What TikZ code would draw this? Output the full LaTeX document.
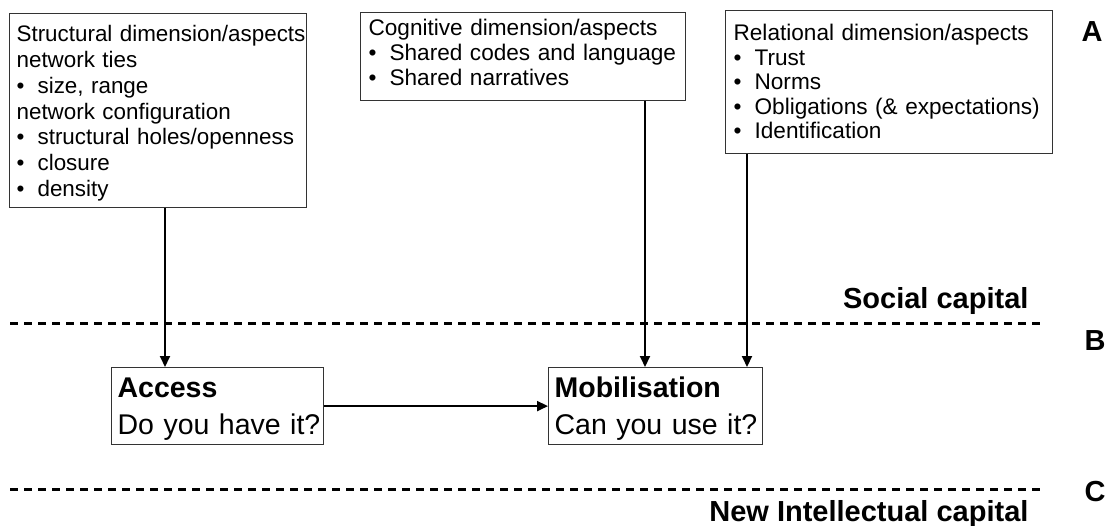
\documentclass[tikz,border=0pt]{standalone}
\usepackage{fontspec}
\setmainfont{Liberation Sans}
\usetikzlibrary{arrows.meta}
\newcommand{\bul}{\makebox[21pt][l]{\textbullet}}
% invisible struts that fix the space above the first line and below the last one
\newcommand{\toppad}[1]{\rule{0pt}{#1}}
\newcommand{\botpad}[1]{\rule[-#1]{0pt}{#1}}
\begin{document}
\begin{tikzpicture}[x=1pt,y=-1pt,
  dimbox/.style={draw=black!80, line width=1.2pt, anchor=north west, align=left,
    inner xsep=8pt, inner ysep=0pt},
  capbox/.style={draw=black!80, line width=1.2pt, anchor=north west, align=left,
    inner xsep=6pt, inner ysep=0pt, font=\fontsize{28.5}{37}\selectfont},
  arr/.style={line width=2pt, -{Triangle[length=11pt,width=10pt]}},
  sep/.style={line width=3pt, dash pattern=on 8pt off 6pt},
  lbl/.style={font=\fontsize{29}{32}\selectfont\bfseries}]
\useasboundingbox (0,0) rectangle (1118,525);

% dimension boxes
\node[dimbox, inner xsep=7pt, text width=283pt, minimum width=297pt,
      font=\fontsize{22.4}{25.8}\selectfont] (s1) at (9,13)
  {\toppad{28pt}\mbox{Structural dimension/aspects}\\network ties\\\bul size, range\\network configuration\\
   \bul structural holes/openness\\\bul closure\\\bul density\botpad{11pt}};
\node[dimbox, text width=309pt, minimum width=325pt,
      font=\fontsize{22.6}{25}\selectfont] (s2) at (360,11.5)
  {\toppad{23pt}Cognitive dimension/aspects\\\bul Shared codes and language\\\bul Shared narratives\botpad{15pt}};
\node[dimbox, text width=311pt, minimum width=327pt,
      font=\fontsize{22.6}{24.5}\selectfont] (s3) at (725,10)
  {\toppad{30pt}Relational dimension/aspects\\\bul Trust\\\bul Norms\\\bul Obligations (\& expectations)\\\bul Identification\botpad{15pt}};

% access and mobilisation
\node[capbox, text width=200pt, minimum width=212pt] (acc) at (111,367)
  {\toppad{30pt}\mbox{\textbf{Access}}\\\mbox{Do you have it?}\botpad{10pt}};
\node[capbox, text width=202pt, minimum width=214pt] (mob) at (548,367)
  {\toppad{30pt}\mbox{\textbf{Mobilisation}}\\\mbox{Can you use it?}\botpad{10pt}};

% separators
\coordinate (d1a) at (10,323); \coordinate (d1b) at (1040,323);
\coordinate (d2a) at (10,489); \coordinate (d2b) at (1040,489);
\draw[sep] (d1a) -- (d1b);
\draw[sep] (d2a) -- (d2b);

% level labels
\node[lbl, anchor=base east] (soc) at (1032,308) {Social capital};
\node[lbl, anchor=base east] (nic) at (1032,521) {New Intellectual capital};
\node[lbl] (la) at (1092,32) {A};
\node[lbl] (lb) at (1095,341) {B};
\node[lbl] (lc) at (1095,492) {C};

% connectors
\coordinate (ta) at ([xshift=54pt]acc.north west);
\coordinate (tb) at ([xshift=97pt]mob.north west);
\coordinate (tc) at ([xshift=199pt]mob.north west);
\draw[arr] (ta |- s1.south) -- (ta);
\draw[arr] (tb |- s2.south) -- (tb);
\draw[arr] (tc |- s3.south) -- (tc);
\draw[arr] (acc.east) -- (mob.west);
\end{tikzpicture}
\end{document}
